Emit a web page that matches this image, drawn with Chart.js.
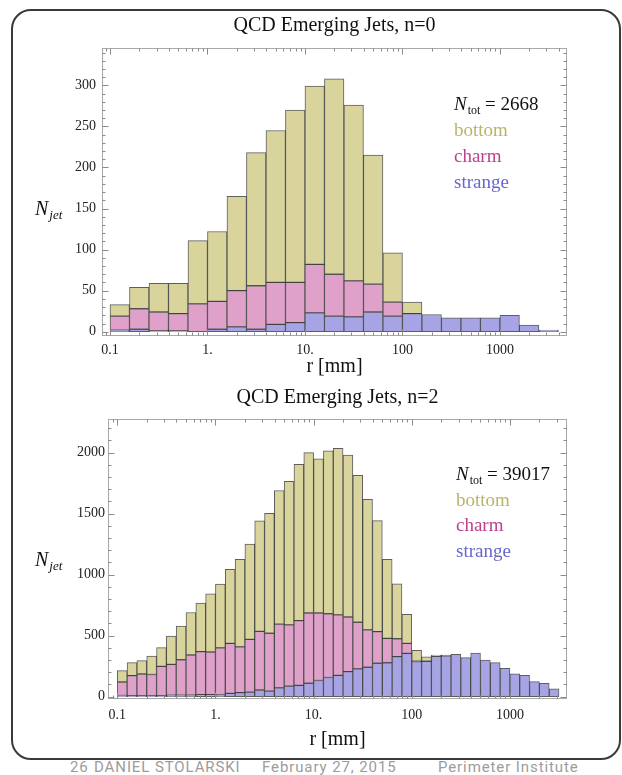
<!DOCTYPE html>
<html>
<head>
<meta charset="utf-8">
<title>QCD Emerging Jets</title>
<script src="https://cdn.jsdelivr.net/npm/chart.js@4.4.1/dist/chart.umd.min.js"></script>
<style>
  html, body { margin: 0; padding: 0; background: #fff; }
  body { width: 622px; height: 775px; position: relative; overflow: hidden; }
  #slide {
    position: absolute; left: 11px; top: 9px; width: 610px; height: 751px;
    box-sizing: border-box; border: 2.5px solid #3a3a3a; border-radius: 20px;
  }
  .plot { position: absolute; left: 0; width: 622px; }
  #topWrap { top: 0; height: 380px; }
  #bottomWrap { top: 380px; height: 375px; }
  .foot {
    position: absolute; top: 758px; font-family: Roboto, "DejaVu Sans", sans-serif;
    font-size: 15px; color: #9c9c9c; letter-spacing: 0.9px; white-space: nowrap;
  }
</style>
</head>
<body>
<div id="slide"></div>
<div class="plot" id="topWrap"><canvas id="topChart"></canvas></div>
<div class="plot" id="bottomWrap"><canvas id="bottomChart"></canvas></div>
<span class="foot" style="left:70px">26</span>
<span class="foot" style="left:94px">DANIEL STOLARSKI</span>
<span class="foot" style="left:262px">February 27, 2015</span>
<span class="foot" style="left:438px">Perimeter Institute</span>

<script>
'use strict';

// bins are equal steps in log10(r): n=0 has 5 per decade, n=2 has 10, both start at 0.1 mm
const topBinStart = -1, topBinStep = 0.2;
const bottomBinStart = -1, bottomBinStep = 0.1;

// n=0, jets per bin
const topStrange = [2, 3, 1, 1, 0, 3, 6, 3, 9, 11, 23, 19, 18, 24, 19, 22, 21, 17, 17, 17, 20, 8, 2];
const topCharm = [17, 25, 23, 21, 34, 34, 44, 53, 51, 49, 59, 51, 44, 34, 17, 0, 0, 0, 0, 0, 0, 0, 0];
const topBottom = [14, 26, 35, 37, 77, 85, 115, 162, 185, 210, 217, 238, 214, 157, 60, 14, 0, 0, 0, 0, 0, 0, 0];

// n=2, jets per bin
const bottomStrange = [10, 9, 7, 7, 9, 12, 12, 13, 17, 17, 14, 27, 33, 37, 55, 46, 72, 86, 93, 110,
  133, 157, 174, 205, 228, 241, 274, 278, 328, 355, 287, 290, 330, 335, 348, 320, 358, 301, 279, 233,
  188, 174, 123, 110, 64];
const bottomCharm = [110, 163, 179, 175, 239, 253, 291, 329, 352, 349, 386, 410, 375, 433, 480, 474, 523, 502, 531, 576,
  553, 523, 496, 448, 382, 306, 259, 200, 147, 82, 5, 2, 5, 5, 0, 0, 0, 0, 0, 0,
  0, 0, 0, 0, 0];
const bottomBottom = [93, 107, 109, 151, 154, 232, 276, 348, 399, 478, 523, 607, 718, 780, 906, 983, 1095, 1178, 1281, 1314,
  1264, 1335, 1365, 1327, 1205, 1071, 910, 648, 449, 239, 88, 34, 6, 2, 0, 0, 0, 0, 0, 0,
  0, 0, 0, 0, 0];

// axis ticks
const xTickValues = [0.1, 1, 10, 100, 1000];
const xTickLabels = ['0.1', '1.', '10.', '100', '1000'];
const topYTicks = [0, 50, 100, 150, 200, 250, 300];
const bottomYTicks = [0, 500, 1000, 1500, 2000];

const serif = '"Liberation Serif", "DejaVu Serif", serif';
Chart.defaults.font.family = serif;
Chart.defaults.color = '#222';

const colBottom = 'rgb(216, 212, 156)';
const colCharm = 'rgb(223, 160, 202)';
const colStrange = 'rgb(166, 164, 228)';

// geometric bin centres
function binCentres(start, step, n) {
  const out = [];
  for (let i = 0; i < n; i++) out.push(Math.pow(10, start + (i + 0.5) * step));
  return out;
}

function total(arr) {
  return arr.reduce((s, v) => s + v, 0);
}

// frame with inward ticks on all four sides (Mathematica style)
const frameTicks = {
  id: 'frameTicks',
  afterDatasetsDraw(chart, args, opts) {
    const { ctx, chartArea: a, scales: { x, y } } = chart;
    const L = Math.round(a.left) + 0.5, R = Math.round(a.right) - 0.5;
    const T = Math.round(a.top) + 0.5, B = Math.round(a.bottom) - 0.5;
    ctx.save();
    ctx.strokeStyle = '#a8a8a8';
    ctx.lineWidth = 1;
    ctx.strokeRect(L, T, R - L, B - T);
    ctx.strokeStyle = '#8a8a8a';
    ctx.beginPath();
    const lo = Math.floor(Math.log10(x.min)), hi = Math.ceil(Math.log10(x.max));
    for (let k = lo; k <= hi; k++) {
      for (let m = 1; m <= 9; m++) {
        const v = m * Math.pow(10, k);
        if (v < x.min || v > x.max) continue;
        const px = Math.round(x.getPixelForValue(v)) + 0.5;
        const len = m === 1 ? 6 : 3;
        ctx.moveTo(px, B); ctx.lineTo(px, B - len);
        ctx.moveTo(px, T); ctx.lineTo(px, T + len);
      }
    }
    for (let v = 0; v <= y.max; v += opts.minor) {
      const py = Math.round(y.getPixelForValue(v)) + 0.5;
      const len = v % opts.major === 0 ? 6 : 3;
      ctx.moveTo(L, py); ctx.lineTo(L + len, py);
      ctx.moveTo(R, py); ctx.lineTo(R - len, py);
    }
    ctx.stroke();
    ctx.restore();
  }
};

// N_jet axis label and the N_tot / species key
const panelText = {
  id: 'panelText',
  afterDraw(chart, args, opts) {
    const ctx = chart.ctx;
    ctx.save();
    ctx.textBaseline = 'middle';
    ctx.textAlign = 'left';
    ctx.fillStyle = '#111';

    ctx.font = 'italic 20px ' + serif;
    ctx.fillText('N', opts.yLabelX, opts.yLabelY);
    let w = ctx.measureText('N').width;
    ctx.font = 'italic 13px ' + serif;
    ctx.fillText('jet', opts.yLabelX + w + 1, opts.yLabelY + 6);

    let x = opts.keyX, y = opts.keyY;
    ctx.font = 'italic 19px ' + serif;
    ctx.fillText('N', x, y);
    w = ctx.measureText('N').width;
    ctx.font = '12px ' + serif;
    ctx.fillText('tot', x + w + 1, y + 6);
    w += 1 + ctx.measureText('tot').width;
    ctx.font = '19px ' + serif;
    ctx.fillText(' = ' + opts.total, x + w, y);

    const names = ['bottom', 'charm', 'strange'];
    const colours = ['rgb(186, 180, 104)', 'rgb(188, 64, 140)', 'rgb(104, 102, 206)'];
    names.forEach((n, i) => {
      ctx.fillStyle = colours[i];
      ctx.fillText(n, x, y + opts.keyGap * (i + 1));
    });
    ctx.restore();
  }
};

function makePlot(id, p) {
  const labels = binCentres(p.binStart, p.binStep, p.strange.length);
  const bar = (label, data, colour) => ({
    label, data,
    backgroundColor: colour,
    borderColor: 'rgba(25, 25, 25, 0.7)',
    borderWidth: 1,
    borderSkipped: false,
    barPercentage: 1,
    categoryPercentage: 1
  });

  return new Chart(document.getElementById(id), {
    type: 'bar',
    data: {
      labels,
      datasets: [
        bar('strange', p.strange, colStrange),
        bar('charm', p.charm, colCharm),
        bar('bottom', p.bottom, colBottom)
      ]
    },
    options: {
      responsive: true,
      maintainAspectRatio: false,
      animation: false,
      events: [],
      layout: { padding: { right: 55 } },
      plugins: {
        legend: { display: false },
        tooltip: { enabled: false },
        title: {
          display: true,
          fullSize: false,
          text: p.title,
          font: { size: 20, weight: 'normal' },
          color: '#111',
          padding: p.titlePad
        },
        frameTicks: { major: p.yTicks[1], minor: p.yTicks[1] / 5 },
        panelText: Object.assign({ total: total(p.strange) + total(p.charm) + total(p.bottom) }, p.text)
      },
      scales: {
        x: {
          type: 'logarithmic',
          stacked: true,
          offset: false,
          min: p.xMin,
          max: p.xMax,
          grid: { display: false, drawTicks: false },
          border: { display: false },
          afterBuildTicks: s => { s.ticks = xTickValues.map(v => ({ value: v })); },
          afterFit: s => { s.height = p.xAxisHeight; },
          ticks: {
            autoSkip: false,
            maxRotation: 0,
            padding: p.xTickPad,
            color: '#222',
            font: { size: 14 },
            callback: (v, i) => xTickLabels[i]
          },
          title: {
            display: true,
            text: 'r [mm]',
            font: { size: 20 },
            color: '#111',
            padding: { top: 0, bottom: p.xTitlePad }
          }
        },
        y: {
          stacked: true,
          min: p.yMin,
          max: p.yMax,
          grid: { display: false, drawTicks: false },
          border: { display: false },
          afterBuildTicks: s => { s.ticks = p.yTicks.map(v => ({ value: v })); },
          afterFit: s => { s.width = p.yAxisWidth; },
          ticks: {
            padding: p.yTickPad,
            color: '#222',
            font: { size: 14 },
            callback: v => String(v)
          }
        }
      }
    },
    plugins: [frameTicks, panelText]
  });
}

makePlot('topChart', {
  title: 'QCD Emerging Jets, n=0',
  titlePad: { top: 14, bottom: 10.4 },
  binStart: topBinStart, binStep: topBinStep,
  strange: topStrange, charm: topCharm, bottom: topBottom,
  xMin: Math.pow(10, -1.082), xMax: Math.pow(10, 3.688),
  yMin: -5.2, yMax: 345, yTicks: topYTicks,
  xAxisHeight: 44, yAxisWidth: 102,
  xTickPad: 6, xTitlePad: 1, yTickPad: 6,
  text: { yLabelX: 35, yLabelY: 210, keyX: 454, keyY: 105, keyGap: 26 }
});

makePlot('bottomChart', {
  title: 'QCD Emerging Jets, n=2',
  titlePad: { top: 6, bottom: 9 },
  binStart: bottomBinStart, binStep: bottomBinStep,
  strange: bottomStrange, charm: bottomCharm, bottom: bottomBottom,
  xMin: Math.pow(10, -1.0947), xMax: Math.pow(10, 3.5815),
  yMin: -19, yMax: 2276, yTicks: bottomYTicks,
  xAxisHeight: 56, yAxisWidth: 108,
  xTickPad: 7.6, xTitlePad: 3, yTickPad: 3,
  text: { yLabelX: 35, yLabelY: 181, keyX: 456, keyY: 95, keyGap: 25.6 }
});
</script>
</body>
</html>
